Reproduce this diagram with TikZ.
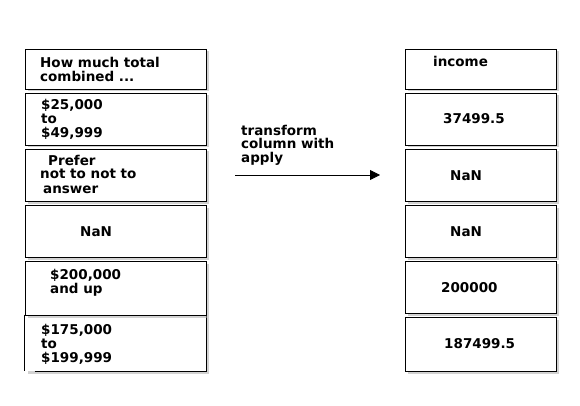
\documentclass[tikz,border=0pt]{standalone}
\usepackage{fontspec}
\setmainfont{DejaVu Sans}
\usetikzlibrary{positioning}
\usetikzlibrary{shadows}
\usetikzlibrary{arrows.meta}

\begin{document}
\begin{tikzpicture}[x=1pt,y=-1pt,
	cell/.style={rectangle, draw, fill=white, line width=0.8pt, inner sep=0pt, drop shadow={shadow xshift=2.5pt, shadow yshift=-2.5pt, fill=gray!70, opacity=0.5}},
	leftcell/.style={cell, minimum width=181pt},
	rightcell/.style={cell, minimum width=151pt},
	txt/.style={font=\bfseries\fontsize{13.5}{14}\selectfont, align=left, inner sep=0pt, anchor=base west}]
	\useasboundingbox (0,0) rectangle (580,406);
	
	% left column
	\node[leftcell, draw=none, drop shadow={opacity=0}, minimum height=56pt] (l6) at (115.5,343) {};
	\draw[line width=0.8pt] (l6.north west) -- (l6.south west);
	\draw[line width=0.8pt] ([xshift=10pt]l6.south west) -- (l6.south east) -- (l6.north east);
	\node[leftcell, minimum height=54pt] (l5) at (115.5,288) {};
	\node[leftcell, minimum height=52pt] (l4) at (115.5,231) {};
	\node[leftcell, minimum height=52pt] (l3) at (115.5,175) {};
	\node[leftcell, minimum height=52pt] (l2) at (115.5,119) {};
	\node[leftcell, minimum height=40pt] (l1) at (115.5,69) {};
	
	% text sits on the baseline of its last line
	\node[txt] (t1) at (40,82) {How much total\\combined ...};
	\node[txt] (t2) at (41,138) {\$25,000\\to\\\$49,999};
	\node[txt] (t3) at (40,193) {\hspace*{8pt}Prefer\\not to not to\\\hspace*{3pt}answer};
	\node[txt] (t4) at (80,236) {NaN};
	\node[txt] (t5) at (50,293) {\$200,000\\and up};
	\node[txt] (t6) at (41,362) {\$175,000\\to\\\$199,999};
	
	% right column
	\node[rightcell, minimum height=54pt] (r6) at (480.5,344) {};
	\node[rightcell, minimum height=52pt] (r5) at (480.5,287) {};
	\node[rightcell, minimum height=52pt] (r4) at (480.5,231) {};
	\node[rightcell, minimum height=52pt] (r3) at (480.5,175) {};
	\node[rightcell, minimum height=52pt] (r2) at (480.5,119) {};
	\node[rightcell, minimum height=40pt] (r1) at (480.5,69) {};
	
	\node[txt] (s1) at (433,67) {income};
	\node[txt] (s2) at (443,124) {37499.5};
	\node[txt] (s3) at (450,180) {NaN};
	\node[txt] (s4) at (450,236) {NaN};
	\node[txt] (s5) at (441,292) {200000};
	\node[txt] (s6) at (444,348) {187499.5};
	
	% arrow
	\coordinate (from) at (235,175);
	\coordinate (to) at (380,175);
	\draw[-{Triangle[length=10pt,width=10pt]}, line width=0.8pt] (from) -- (to);
	\node[txt] (how) at (241,163) {transform\\column with\\apply};
	
\end{tikzpicture}
\end{document}
